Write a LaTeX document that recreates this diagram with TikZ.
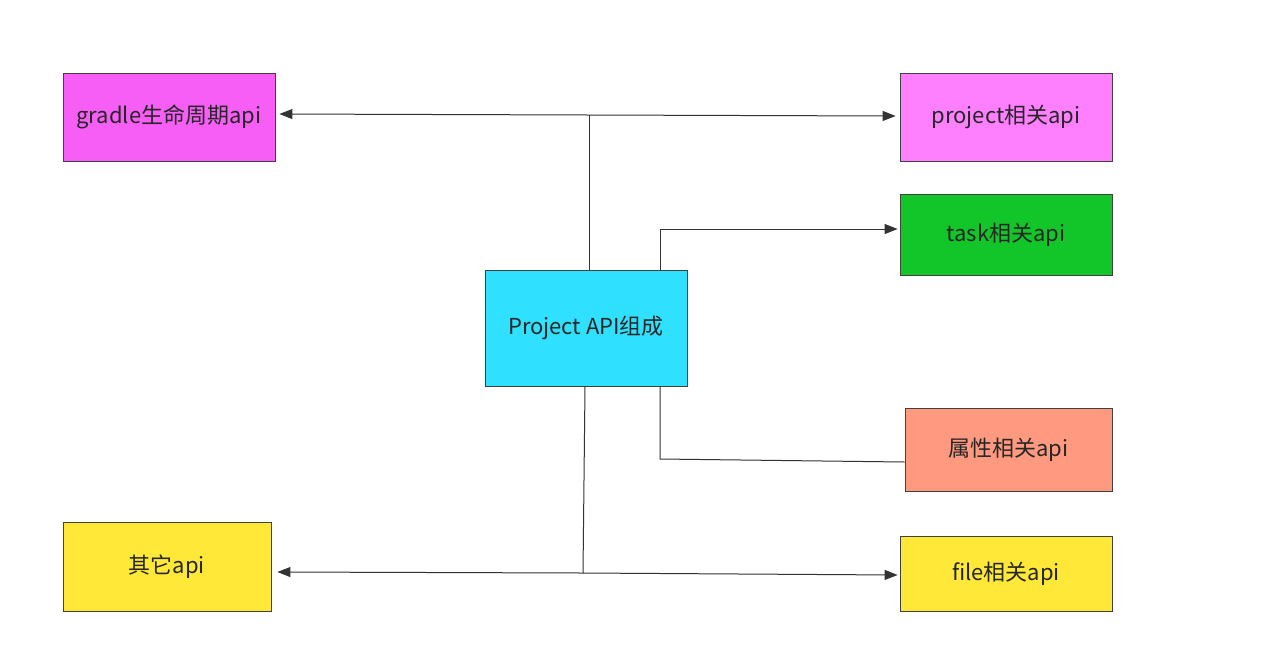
\documentclass[tikz,border=0pt]{standalone}
\usepackage{fontspec}
\setmainfont{Noto Sans CJK SC}
\usetikzlibrary{arrows.meta}
\definecolor{cMag}{HTML}{F65EF5}
\definecolor{cPink}{HTML}{FF80FF}
\definecolor{cGreen}{HTML}{12C62A}
\definecolor{cCyan}{HTML}{30E0FF}
\definecolor{cSalmon}{HTML}{FF9980}
\definecolor{cYellow}{HTML}{FFE838}
\newcommand{\lowtxt}[1]{\raisebox{-3pt}{#1}}
\tikzset{
  box/.style={draw=black!75, line width=0.8pt, inner sep=0pt, font=\fontsize{22}{26}\selectfont, text=black!85},
  conn/.style={draw=black!80, line width=1pt},
  arr/.style={conn, -{Triangle[length=13pt,width=10pt]}},
}
\begin{document}
\begin{tikzpicture}[x=1pt,y=-1pt]
\useasboundingbox (0,0) rectangle (1279,649);
\node[box, fill=cMag, minimum width=212pt, minimum height=88pt] (gradle) at (169,117) {\lowtxt{gradle生命周期api}};
\node[box, fill=cPink, minimum width=212pt, minimum height=88pt] (project) at (1006,117) {\lowtxt{project相关api}};
\node[box, fill=cGreen, minimum width=212pt, minimum height=81pt] (task) at (1006,234.5) {\lowtxt{task相关api}};
\node[box, fill=cCyan, minimum width=202pt, minimum height=116pt] (core) at (586,328) {\lowtxt{Project API组成}};
\node[box, fill=cSalmon, minimum width=207pt, minimum height=83pt] (attr) at (1008.5,449.5) {\lowtxt{属性相关api}};
\node[box, fill=cYellow, minimum width=208pt, minimum height=89pt] (other) at (167,566.5) {\lowtxt{其它api}};
\node[box, fill=cYellow, minimum width=212pt, minimum height=75pt] (file) at (1006,573.5) {\lowtxt{file相关api}};

\coordinate (topj) at (589,115);
\coordinate (botj) at (583,573);
\coordinate (tk) at (660,229);
\coordinate (at) at (660,459);

\draw[conn] (core.north -| topj) -- (topj);
\draw[arr] (topj) -- ([xshift=4pt]gradle.east |- 0,114);
\draw[arr] (topj) -- ([xshift=-4pt]project.west |- 0,116);
\draw[conn] (core.north -| tk) -- (tk);
\draw[arr] (tk) -- ([xshift=-2pt]task.west |- tk);
\draw[conn] (core.south -| at) -- (at) -- (attr.west |- 0,462);
\draw[conn] (core.south -| 585,0) -- (botj);
\draw[arr] (botj) -- ([xshift=6pt]other.east |- 0,572);
\draw[arr] (botj) -- ([xshift=-2pt]file.west |- 0,575);
\end{tikzpicture}
\end{document}
